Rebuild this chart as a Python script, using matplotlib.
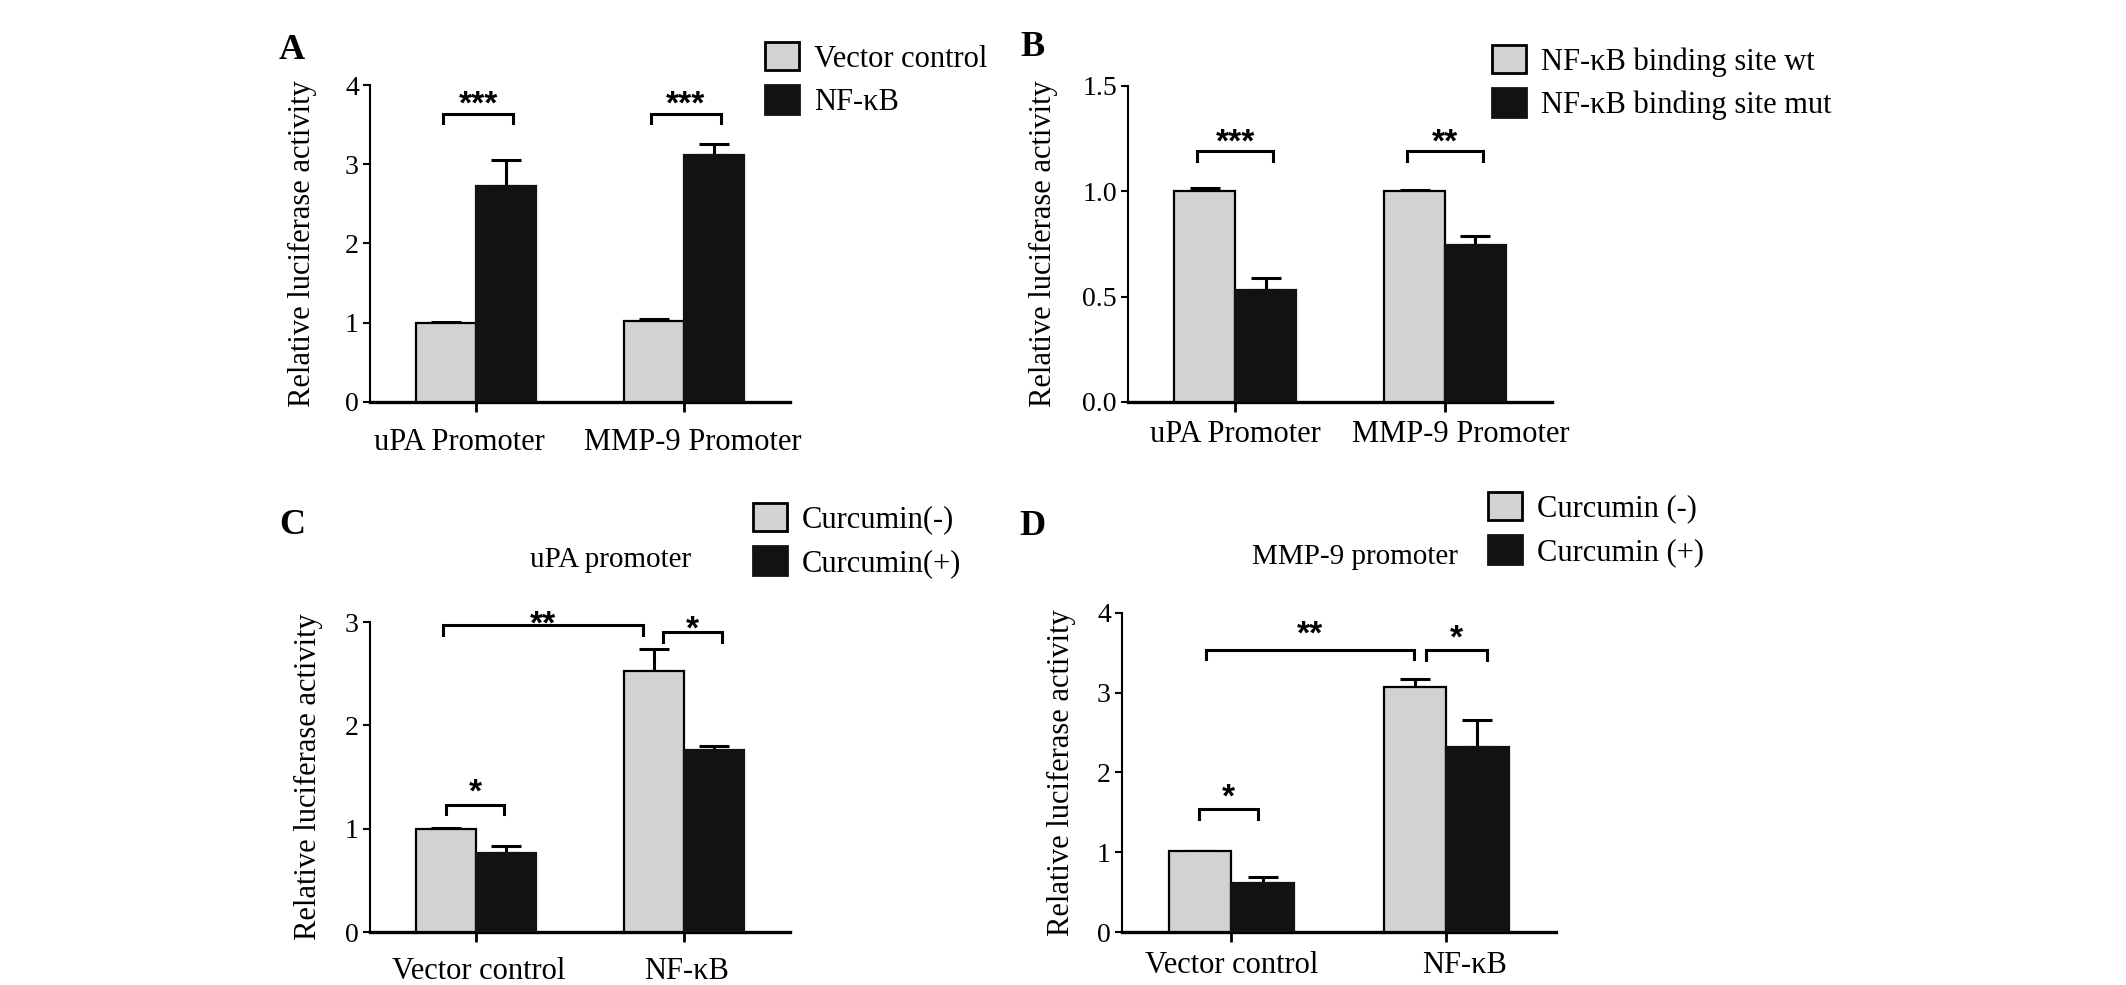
import numpy as np
import matplotlib
matplotlib.use('Agg')
import matplotlib.pyplot as plt
from matplotlib.patches import Patch
from matplotlib.transforms import ScaledTranslation

plt.rcParams['font.family'] = ['Liberation Serif', 'DejaVu Serif']

# Panel A - NF-kB overexpression
a_groups = ['uPA Promoter', 'MMP-9 Promoter']
a_ctrl = [1.00, 1.02]
a_ctrl_err = [0.01, 0.03]
a_nfkb = [2.73, 3.12]
a_nfkb_err = [0.32, 0.13]

# Panel B - binding site wt / mut
b_groups = ['uPA Promoter', 'MMP-9 Promoter']
b_wt = [1.00, 1.00]
b_wt_err = [0.015, 0.006]
b_mut = [0.53, 0.745]
b_mut_err = [0.06, 0.043]

# Panel C - uPA promoter, curcumin
c_groups = ['Vector control', 'NF-κB']
c_minus = [1.00, 2.53]
c_minus_err = [0.01, 0.21]
c_plus = [0.76, 1.76]
c_plus_err = [0.07, 0.04]

# Panel D - MMP-9 promoter, curcumin
d_groups = ['Vector control', 'NF-κB']
d_minus = [1.01, 3.07]
d_minus_err = [0.01, 0.10]
d_plus = [0.62, 2.32]
d_plus_err = [0.07, 0.34]

LIGHT = '#d2d2d2'
DARK = '#121212'
W = 0.29
FS_LEG = 22


def draw_bars(ax, groups, v1, e1, v2, e2, ylim, yticks, yticklabels, xpad, xshift):
    x = np.arange(len(groups))
    ax.bar(x - W / 2, v1, W, color=LIGHT, edgecolor='black', linewidth=1.6, zorder=3)
    ax.bar(x + W / 2, v2, W, color=DARK, edgecolor=DARK, linewidth=1.6, zorder=3)
    for off, v, e in [(-W / 2, v1, e1), (W / 2, v2, e2)]:
        ax.errorbar(x + off, v, yerr=[np.zeros(len(e)), e], fmt='none', ecolor='black',
                    elinewidth=2.2, capsize=11, capthick=2.2, zorder=2, clip_on=False)
    ax.set_xlim(-0.51, 1.51)
    ax.set_ylim(*ylim)
    ax.set_yticks(yticks)
    ax.set_yticklabels(yticklabels, fontsize=20)
    ax.set_xticks(x)
    ax.set_xticklabels(groups, fontsize=22)
    ax.tick_params(axis='y', direction='out', length=5, width=1.5, pad=3)
    ax.tick_params(axis='x', direction='out', length=7, width=2, pad=xpad)
    # labels are not exactly centred under the ticks in the original
    for lab, dx in zip(ax.get_xticklabels(), xshift):
        lab.set_transform(lab.get_transform() + ScaledTranslation(dx / 100, 0, fig.dpi_scale_trans))
    for s in ['top', 'right']:
        ax.spines[s].set_visible(False)
    ax.spines['left'].set_linewidth(1.5)
    ax.spines['bottom'].set_linewidth(2.4)
    ax.set_ylabel('Relative luciferase activity', fontsize=22)


def bracket(ax, x1, x2, y, drop, stars, star_y):
    ax.plot([x1, x1, x2, x2], [y - drop, y, y, y - drop], color='black', lw=2.2,
            clip_on=False, solid_joinstyle='miter')
    ax.annotate(stars, xy=((x1 + x2) / 2, star_y), xytext=(0, -12), textcoords='offset points',
                ha='center', va='baseline', fontsize=24, fontweight='bold',
                family='Liberation Sans', annotation_clip=False)


def legend(fig, labels, x, y):
    handles = [Patch(facecolor=LIGHT, edgecolor='black', linewidth=2),
               Patch(facecolor=DARK, edgecolor=DARK, linewidth=2)]
    fig.legend(handles, labels, loc='upper left', bbox_to_anchor=(x, y), frameon=False,
               fontsize=FS_LEG, handlelength=1.1, handleheight=1.05, handletextpad=0.5,
               labelspacing=0.38, borderpad=0, borderaxespad=0)


fig = plt.figure(figsize=(21.26, 9.85), dpi=100)

axA = fig.add_axes([0.1740, 0.5919, 0.1976, 0.3218])
draw_bars(axA, a_groups, a_ctrl, a_ctrl_err, a_nfkb, a_nfkb_err,
          (0, 4), [0, 1, 2, 3, 4], ['0', '1', '2', '3', '4'], 12, [-17, 9])
axA.yaxis.set_label_coords(-0.125, 0.5)
bracket(axA, -0.16, 0.18, 3.64, 0.12, '***', 3.85)
bracket(axA, 0.84, 1.18, 3.64, 0.12, '***', 3.85)

axB = fig.add_axes([0.5306, 0.5919, 0.1994, 0.3208])
draw_bars(axB, b_groups, b_wt, b_wt_err, b_mut, b_mut_err,
          (0, 1.5), [0, 0.5, 1.0, 1.5], ['0.0', '0.5', '1.0', '1.5'], 6, [0, 16])
axB.yaxis.set_label_coords(-0.165, 0.5)
bracket(axB, -0.18, 0.18, 1.19, 0.045, '***', 1.27)
bracket(axB, 0.82, 1.18, 1.19, 0.045, '**', 1.27)

axC = fig.add_axes([0.1740, 0.0538, 0.1976, 0.3147])
draw_bars(axC, c_groups, c_minus, c_minus_err, c_plus, c_plus_err,
          (0, 3), [0, 1, 2, 3], ['0', '1', '2', '3'], 11, [3, 3])
axC.yaxis.set_label_coords(-0.112, 0.5)
bracket(axC, -0.146, 0.136, 1.23, 0.09, '*', 1.42)
bracket(axC, -0.16, 0.805, 2.97, 0.10, '**', 3.05)
bracket(axC, 0.90, 1.185, 2.90, 0.09, '*', 3.00)

axD = fig.add_axes([0.5277, 0.0538, 0.2041, 0.3239])
draw_bars(axD, d_groups, d_minus, d_minus_err, d_plus, d_plus_err,
          (0, 4), [0, 1, 2, 3, 4], ['0', '1', '2', '3', '4'], 6.5, [0, 18])
axD.yaxis.set_label_coords(-0.106, 0.5)
bracket(axD, -0.15, 0.124, 1.54, 0.12, '*', 1.78)
bracket(axD, -0.117, 0.85, 3.54, 0.12, '**', 3.82)
bracket(axD, 0.906, 1.19, 3.53, 0.12, '*', 3.78)

# panel letters
for lab, x, y in [('A', 0.1373, 0.949), ('B', 0.4855, 0.952), ('C', 0.1373, 0.467), ('D', 0.4855, 0.465)]:
    fig.text(x, y, lab, fontsize=26, fontweight='bold', ha='center', va='center')

# titles of C and D
fig.text(0.287, 0.431, 'uPA promoter', fontsize=21, ha='center', va='center')
fig.text(0.6373, 0.4345, 'MMP-9 promoter', fontsize=21, ha='center', va='center')

# legends
legend(fig, ['Vector control', 'NF-κB'], 765 / 2126, 1 - 42 / 985)
legend(fig, ['NF-κB binding site wt', 'NF-κB binding site mut'], 1492 / 2126, 1 - 45 / 985)
legend(fig, ['Curcumin(-)', 'Curcumin(+)'], 753 / 2126, 1 - 503 / 985)
legend(fig, ['Curcumin (-)', 'Curcumin (+)'], 1488 / 2126, 1 - 492 / 985)

fig.savefig('out.png', dpi=100)
